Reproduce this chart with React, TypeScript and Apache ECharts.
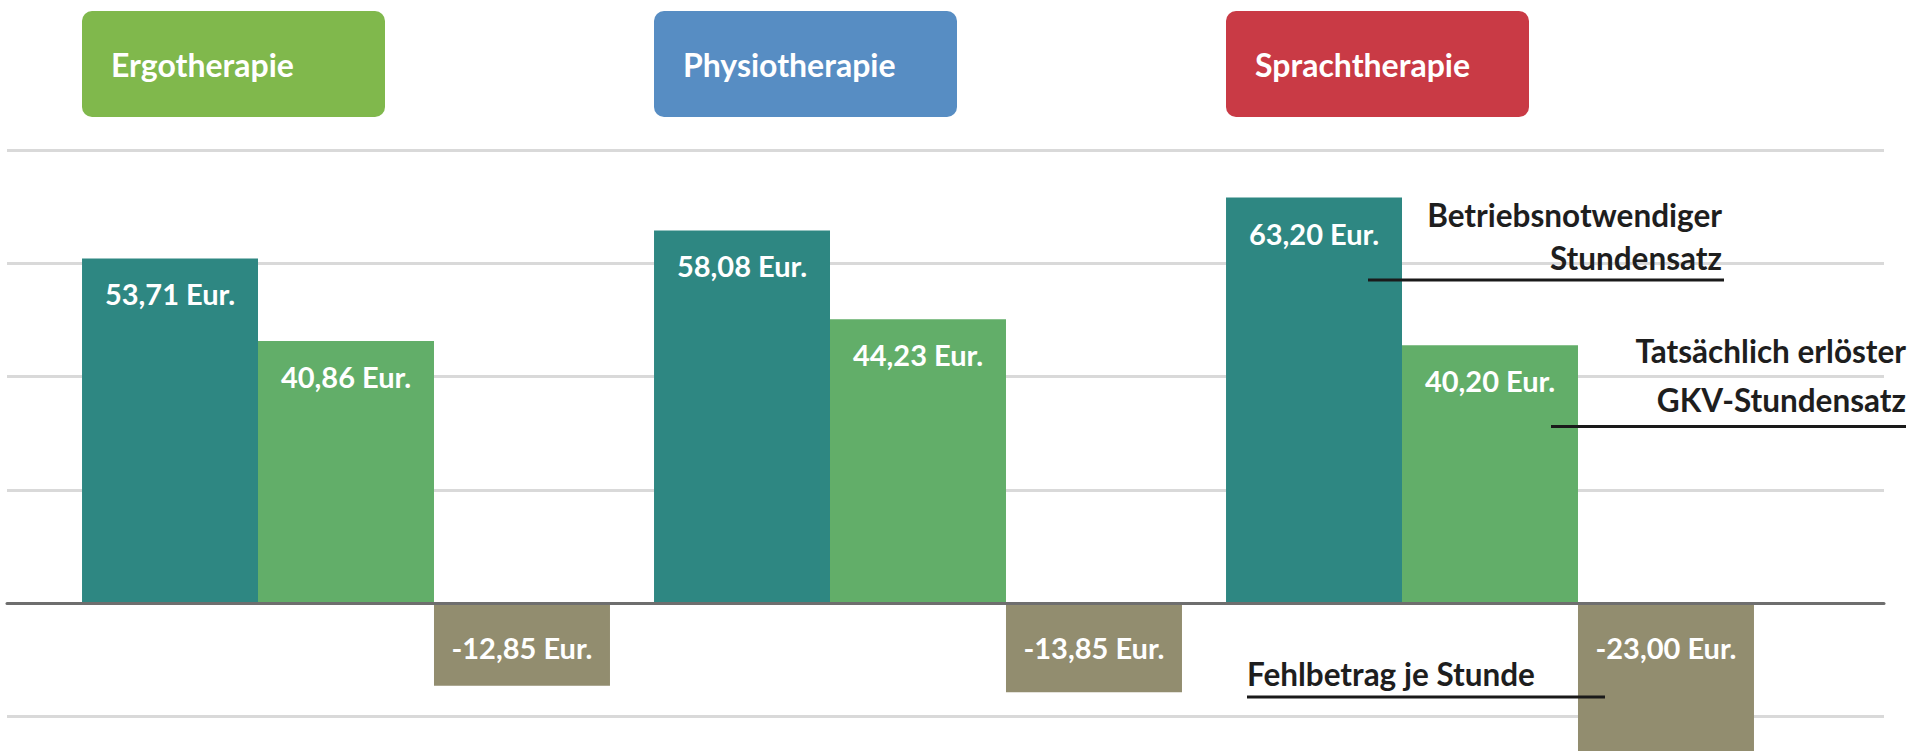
import React, { useEffect, useRef } from "react";
import * as echarts from "echarts";

const categories = ["Ergotherapie", "Physiotherapie", "Sprachtherapie"];
const headerColors = ["#80b84c", "#578dc3", "#c93a45"];
const seriesNames = [
  "Betriebsnotwendiger Stundensatz",
  "Tatsächlich erlöster GKV-Stundensatz",
  "Fehlbetrag je Stunde",
];
const annotationTexts = [
  "Betriebsnotwendiger\nStundensatz",
  "Tatsächlich erlöster\nGKV-Stundensatz",
  "Fehlbetrag je Stunde",
];
const requiredRate = [53.71, 58.08, 63.2];
const actualRate = [40.86, 44.23, 40.2];
const shortfall = [-12.85, -13.85, -23.0];
const seriesColors = ["#2e8782", "#62ae69", "#928d6f"];

const gridMin = -35;
const gridMax = 70;
const gridInterval = 17.5;
const barMin = -35.3;
const barMax = 70.6;

const FONT = 'Lato, "Open Sans", sans-serif';

const fmt = (v: number) => v.toFixed(2).replace(".", ",") + " Eur.";

export default function App() {
  const ref = useRef<HTMLDivElement>(null);

  useEffect(() => {
    if (!ref.current) return;
    const chart = echarts.init(ref.current, null, { renderer: "svg" });

    const boxBase = {
      color: "#ffffff",
      fontSize: 32,
      fontWeight: "bold" as const,
      fontFamily: FONT,
      width: 274,
      height: 106,
      lineHeight: 106,
      padding: [0, 0, 0, 29],
      borderRadius: 10,
      align: "left" as const,
    };
    const rich: any = { sp: { width: 225, height: 106 } };
    headerColors.forEach((c, i) => {
      rich["b" + i] = { ...boxBase, backgroundColor: c };
    });

    const labelBase = {
      show: true,
      position: "insideTop" as const,
      color: "#ffffff",
      fontSize: 29,
      fontWeight: "bold" as const,
      fontFamily: FONT,
      formatter: (p: any) => fmt(p.value),
    };

    const annText = (text: string, x: number, y: number, align: string, lh: number) => ({
      type: "text",
      z: 100,
      x,
      y,
      style: {
        text,
        fill: "#1e1e1e",
        font: `bold 31.5px ${FONT}`,
        fontSize: 31.5,
        fontWeight: "bold",
        fontFamily: FONT,
        textAlign: align,
        align,
        textVerticalAlign: "middle",
        verticalAlign: "middle",
        lineHeight: lh,
      },
    });
    const annLine = (x1: number, x2: number, y: number) => ({
      type: "line",
      z: 100,
      shape: { x1, y1: y, x2, y2: y },
      style: { stroke: "#1a1a1a", lineWidth: 3 },
    });

    chart.setOption({
      animation: false,
      backgroundColor: "#ffffff",
      grid: [
        { left: 7, right: 43, top: 150, bottom: 0 },
        { left: 60, right: 151, top: 150, bottom: 0 },
      ],
      xAxis: [
        {
          gridIndex: 0,
          type: "category",
          data: categories,
          z: 10,
          axisLine: { show: true, onZero: true, lineStyle: { color: "#6e6e6e", width: 3 } },
          axisTick: { show: false },
          axisLabel: { show: false },
          splitLine: { show: false },
        },
        {
          gridIndex: 1,
          type: "category",
          data: categories,
          position: "top",
          axisLine: { show: false, onZero: false },
          axisTick: { show: false },
          splitLine: { show: false },
          axisLabel: {
            show: true,
            interval: 0,
            margin: 33,
            formatter: (v: string) => {
              const i = categories.indexOf(v);
              return `{b${i}|${v}}{sp| }`;
            },
            rich,
          },
        },
      ],
      yAxis: [
        {
          gridIndex: 0,
          type: "value",
          min: gridMin,
          max: gridMax,
          interval: gridInterval,
          axisLine: { show: false },
          axisTick: { show: false },
          axisLabel: { show: false },
          splitLine: { show: true, lineStyle: { color: "#d9d9d9", width: 3 } },
        },
        {
          gridIndex: 1,
          type: "value",
          min: barMin,
          max: barMax,
          show: false,
          splitLine: { show: false },
        },
      ],
      series: [
        {
          name: seriesNames[0],
          type: "bar",
          xAxisIndex: 1,
          yAxisIndex: 1,
          data: requiredRate,
          barGap: "0%",
          barCategoryGap: "7.7%",
          itemStyle: { color: seriesColors[0] },
          label: { ...labelBase, distance: 21 },
        },
        {
          name: seriesNames[1],
          type: "bar",
          xAxisIndex: 1,
          yAxisIndex: 1,
          data: actualRate,
          barGap: "0%",
          barCategoryGap: "7.7%",
          itemStyle: { color: seriesColors[1] },
          label: { ...labelBase, distance: 21 },
        },
        {
          name: seriesNames[2],
          type: "bar",
          xAxisIndex: 1,
          yAxisIndex: 1,
          data: shortfall,
          barGap: "0%",
          barCategoryGap: "7.7%",
          itemStyle: { color: seriesColors[2] },
          label: { ...labelBase, distance: 30 },
        },
      ],
      graphic: [
        annText(annotationTexts[0], 1722, 236.5, "right", 43),
        annLine(1368, 1724, 280),
        annText(annotationTexts[1], 1906, 375, "right", 49),
        annLine(1551, 1906, 426.5),
        annText(annotationTexts[2], 1247, 673.5, "left", 40),
        annLine(1247, 1605, 697),
      ],
    });

    return () => chart.dispose();
  }, []);

  return (
    <div
      style={{
        position: "absolute",
        left: 0,
        top: 0,
        width: 1927,
        height: 754,
        overflow: "hidden",
        background: "#ffffff",
      }}
    >
      <div ref={ref} style={{ width: 1927, height: 830 }} />
    </div>
  );
}
